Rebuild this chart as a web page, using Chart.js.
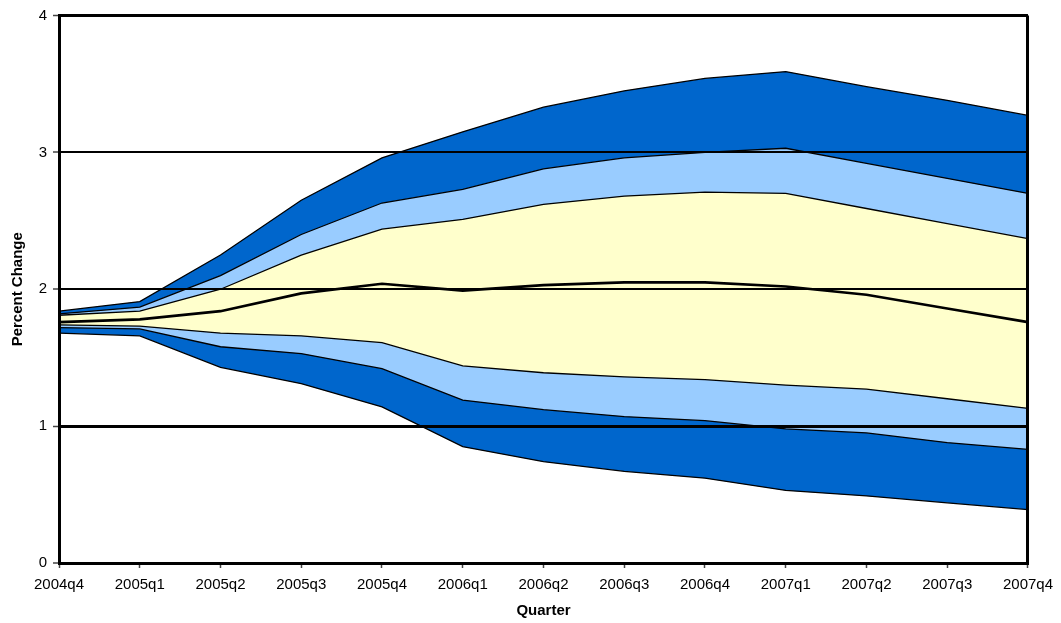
<!DOCTYPE html>
<html>
<head>
<meta charset="utf-8">
<title>Percent Change by Quarter</title>
<script src="https://cdn.jsdelivr.net/npm/chart.js@4/dist/chart.umd.min.js"></script>
<style>
  html, body { margin: 0; padding: 0; background: #ffffff; }
  #wrap { width: 1061px; height: 623px; }
</style>
</head>
<body>
<div id="wrap"><canvas id="fan" width="1061" height="623"></canvas></div>
<script>
// Quarters on the horizontal axis
const quarters = ['2004q4', '2005q1', '2005q2', '2005q3', '2005q4', '2006q1', '2006q2',
                  '2006q3', '2006q4', '2007q1', '2007q2', '2007q3', '2007q4'];

// Central projection
const median    = [1.76, 1.78, 1.84, 1.97, 2.04, 1.99, 2.03, 2.05, 2.05, 2.02, 1.96, 1.86, 1.76];

// Inner band (yellow)
const midHigh   = [1.81, 1.84, 2.00, 2.25, 2.44, 2.51, 2.62, 2.68, 2.71, 2.70, 2.59, 2.48, 2.37];
const midLow    = [1.74, 1.73, 1.68, 1.66, 1.61, 1.44, 1.39, 1.36, 1.34, 1.30, 1.27, 1.20, 1.13];

// Middle band (light blue)
const innerHigh = [1.82, 1.87, 2.10, 2.40, 2.63, 2.73, 2.88, 2.96, 3.00, 3.03, 2.92, 2.81, 2.70];
const innerLow  = [1.72, 1.71, 1.58, 1.53, 1.42, 1.19, 1.12, 1.07, 1.04, 0.98, 0.95, 0.88, 0.83];

// Outer band (dark blue)
const outerHigh = [1.84, 1.91, 2.25, 2.65, 2.96, 3.15, 3.33, 3.45, 3.54, 3.59, 3.48, 3.38, 3.27];
const outerLow  = [1.68, 1.66, 1.43, 1.31, 1.14, 0.85, 0.74, 0.67, 0.62, 0.53, 0.49, 0.44, 0.39];

// Value-axis ticks
const yTicks = [0, 1, 2, 3, 4];

const FONT = "'Liberation Sans', Arial, sans-serif";

function edge(data, fill, bg) {
  return {
    data: data,
    borderColor: '#000000',
    borderWidth: 1.3,
    backgroundColor: bg || 'transparent',
    fill: fill,
    pointRadius: 0,
    tension: 0
  };
}

const datasets = [
  Object.assign(edge(median, false), { borderWidth: 2.6 }),
  edge(midHigh, '+1', '#FFFFCC'),
  edge(midLow, false),
  edge(innerHigh, '+1', '#99CCFF'),
  edge(innerLow, false),
  edge(outerHigh, '+1', '#0066CC'),
  edge(outerLow, false)
];

const yGridWidth = { 0: 0, 1: 3, 2: 2, 3: 2, 4: 3 };

new Chart(document.getElementById('fan'), {
  type: 'line',
  data: { labels: quarters, datasets: datasets },
  options: {
    responsive: false,
    animation: false,
    devicePixelRatio: 1,
    layout: { padding: { left: 0, right: 32, top: 15.5, bottom: 0 } },
    plugins: {
      legend: { display: false },
      tooltip: { enabled: false },
      filler: { drawTime: 'beforeDatasetsDraw', propagate: false }
    },
    scales: {
      x: {
        offset: false,
        afterFit: s => { s.height = 60; },
        border: { display: true, color: '#000000', width: 3, z: 2 },
        grid: {
          z: 1,
          offset: false,
          color: c => (c.index === quarters.length - 1 ? '#000000' : 'rgba(0,0,0,0)'),
          lineWidth: 3,
          drawTicks: true,
          tickLength: 5,
          tickWidth: 1.5,
          tickColor: '#444444'
        },
        ticks: {
          z: 1,
          autoSkip: false,
          maxRotation: 0,
          minRotation: 0,
          padding: 8,
          color: '#000000',
          font: { family: FONT, size: 15 }
        },
        title: {
          display: true,
          text: 'Quarter',
          color: '#000000',
          font: { family: FONT, size: 15, weight: 'bold' },
          padding: { top: 0, bottom: 3 }
        }
      },
      y: {
        min: yTicks[0],
        max: yTicks[yTicks.length - 1],
        afterFit: s => { s.width = 59; },
        afterBuildTicks: s => { s.ticks = yTicks.map(v => ({ value: v })); },
        border: { display: true, color: '#000000', width: 3, z: 2 },
        grid: {
          z: 1,
          color: c => (c.tick && c.tick.value === 0 ? 'rgba(0,0,0,0)' : '#000000'),
          lineWidth: c => (c.tick ? (yGridWidth[c.tick.value] || 2) : 2),
          drawTicks: true,
          tickLength: 6,
          tickWidth: 1.5,
          tickColor: '#444444'
        },
        ticks: {
          z: 1,
          padding: 6,
          color: '#000000',
          font: { family: FONT, size: 15 }
        },
        title: {
          display: true,
          text: 'Percent Change',
          color: '#000000',
          font: { family: FONT, size: 15, weight: 'bold' },
          padding: { top: 9, bottom: 0 }
        }
      }
    }
  }
});
</script>
</body>
</html>
